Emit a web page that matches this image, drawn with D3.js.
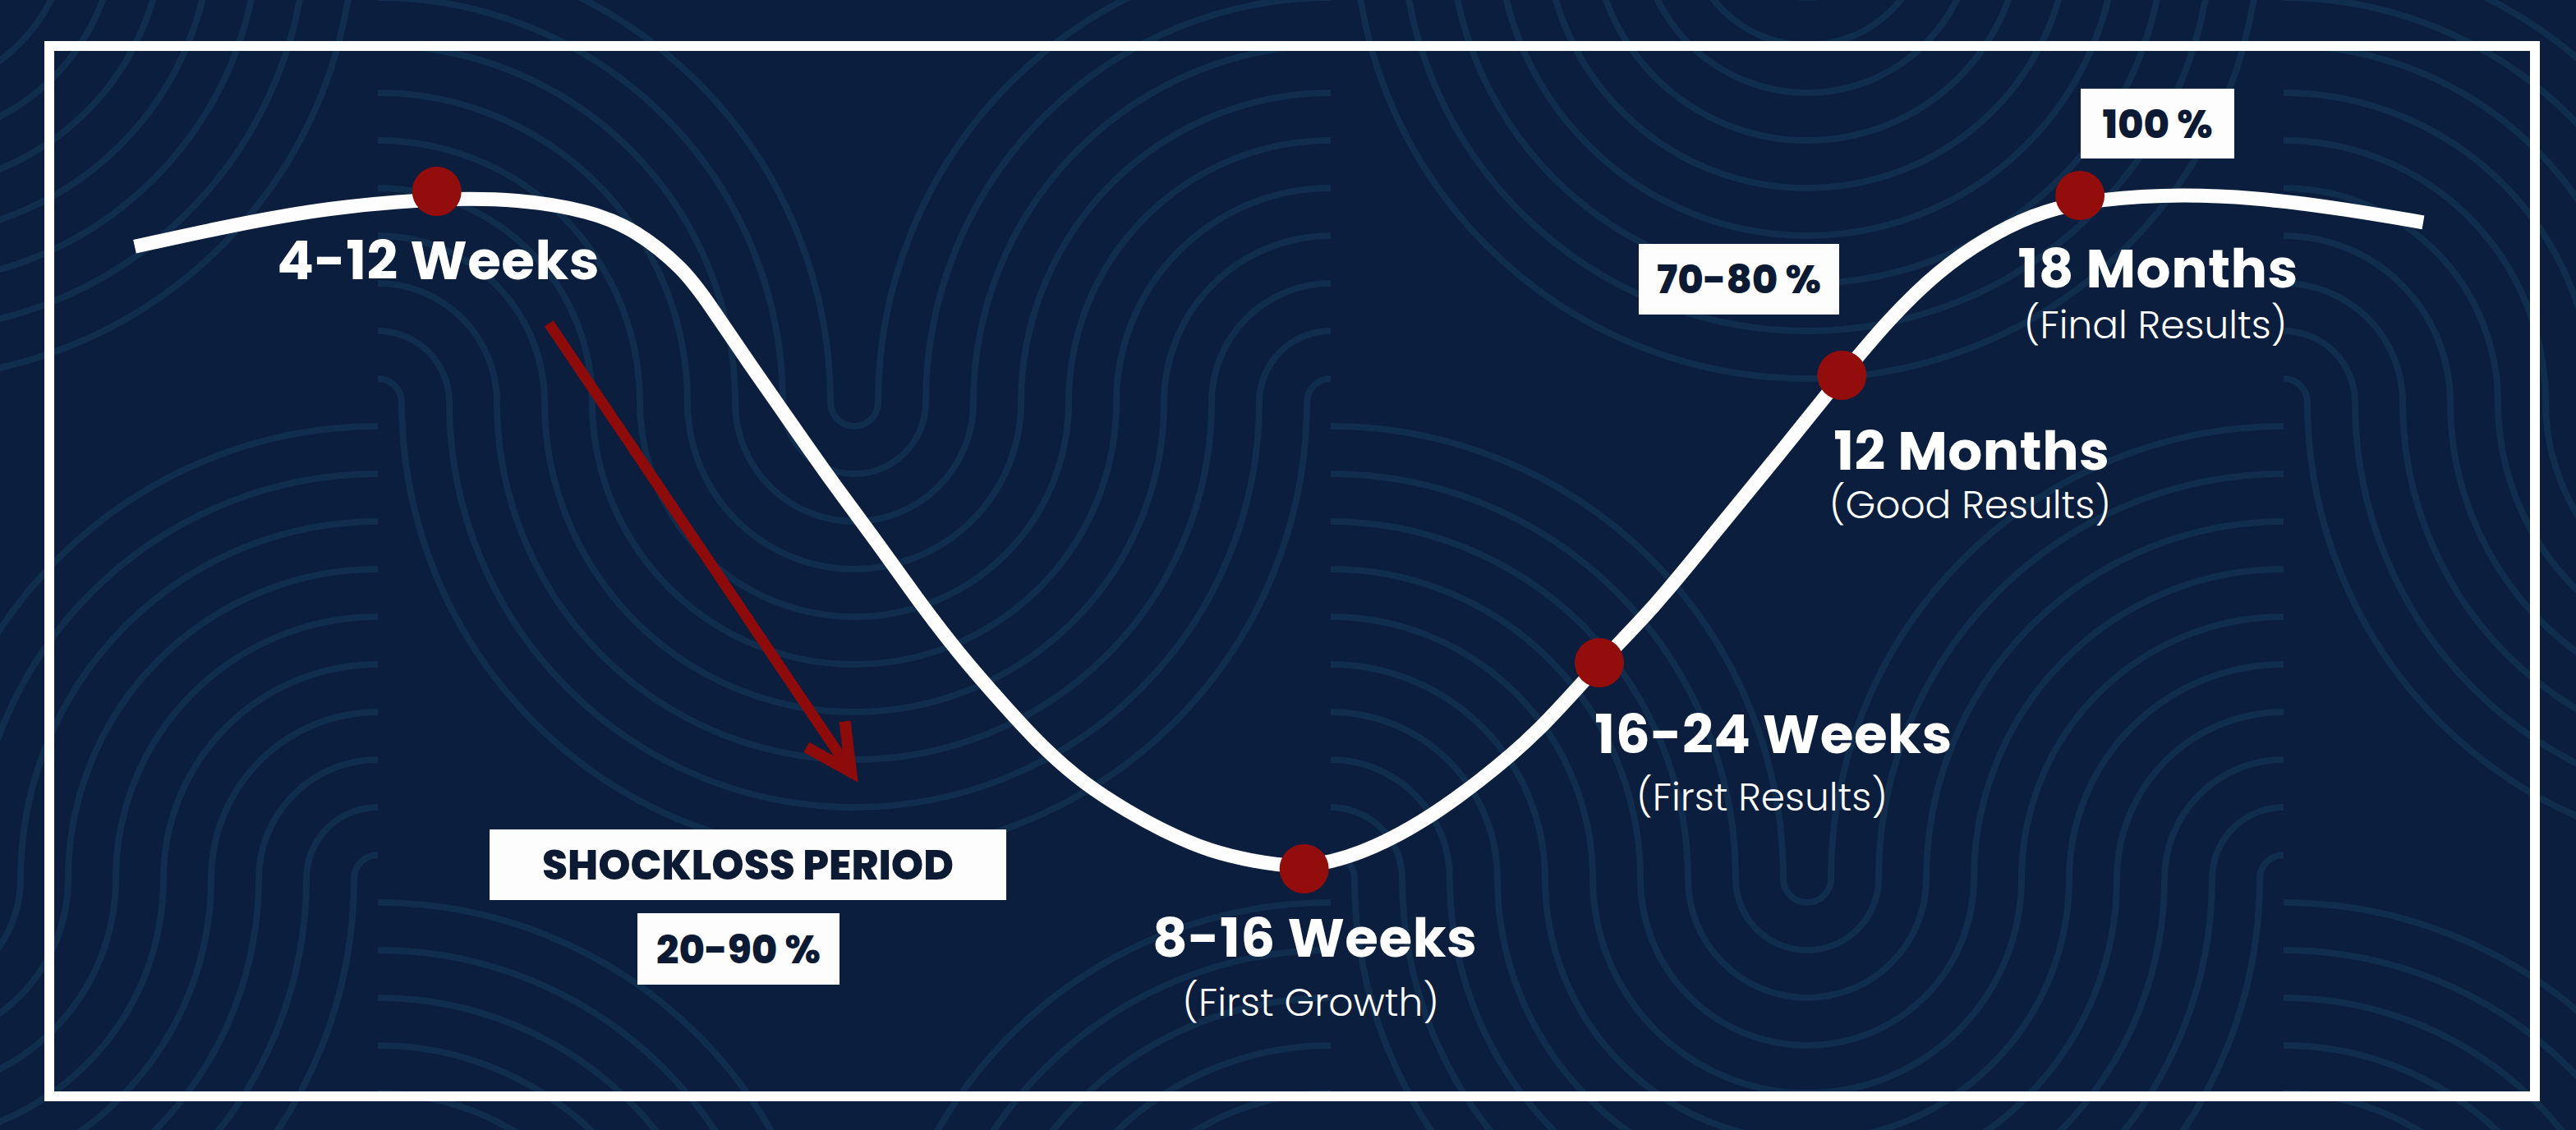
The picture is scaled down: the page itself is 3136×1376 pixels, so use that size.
<!DOCTYPE html>
<html><head><meta charset="utf-8">
<script src="https://cdn.jsdelivr.net/npm/d3@7"></script>
<style>html,body{margin:0;padding:0;background:#0b1e3d;}svg{display:block}</style>
</head><body><svg id="chart" width="3136" height="1376"></svg>
<script>
// ---- data: timeline progress (0-100) vs relative hair level (0-100) ----
const curveX = [0,4.4,8.5,13.2,16.8,19.9,21.9,24.0,25.1,26.9,28.7,30.5,32.4,34.2,36.0,37.9,39.7,41.5,43.4,45.2,47.0,48.9,51.1,53.6,56.2,58.7,61.3,64.0,66.4,69.0,71.8,74.6,76.7,78.8,80.9,82.9,85.0,88.5,92.6,96.7,100];
const curveY = [92.4,95.7,98.2,99.6,99.5,97.7,94.9,89.1,83.9,74.8,66.1,57.3,48.7,40.0,32.0,24.6,17.9,12.6,8.5,5.2,2.6,1.1,0,2.2,6.7,12.8,20.1,30.6,38.8,49.8,61.3,73.3,81.8,88.8,93.7,97.1,99.1,100.2,99.8,97.9,96.0];

const milestoneLabels = ["4-12 Weeks","8-16 Weeks","16-24 Weeks","12 Months","18 Months"];
const milestoneSubs   = ["","(First Growth)","(First Results)","(Good Results)","(Final Results)"];
const milestoneX = [13.2, 51.1, 64.0, 74.6, 85.0];
const milestoneY = [100.6, 0, 30.6, 73.3, 100.0];

const boxLabels = ["SHOCKLOSS PERIOD","20-90 %","70-80 %","100 %"];
const arrowX = [18.1, 31.3];
const arrowY = [81.0, 14.4];

// ---- layout ----
const W = 3136, H = 1376;
const svg = d3.select("#chart");
const x = d3.scaleLinear().domain([0,100]).range([164,2950]);
const y = d3.scaleLinear().domain([0,100]).range([1058,238]);

// background
svg.append("rect").attr("width",W).attr("height",H).attr("fill","#0b1e3d");

// decorative concentric-arc texture (Truchet-like tiles)
const tile = 580, step = 58;
const pat = svg.append("g").attr("fill","none").attr("stroke","#102d4d").attr("stroke-width",8);
for (let i = 0; i < Math.ceil(W/tile)+1; i++) {
  for (let j = 0; j < Math.ceil(H/tile)+1; j++) {
    const k = (i*3 + j*2) % 4;
    const cx = i*tile + ((k===1||k===2)?tile:0) - 120;
    const cy = j*tile + ((k>=2)?tile:0) - 90;
    const clipId = `c${i}_${j}`;
    svg.append("clipPath").attr("id",clipId).append("rect")
      .attr("x",i*tile-120).attr("y",j*tile-90).attr("width",tile).attr("height",tile);
    const g = pat.append("g").attr("clip-path",`url(#${clipId})`);
    d3.range(step/2, tile, step).forEach(r => {
      g.append("circle").attr("cx",cx).attr("cy",cy).attr("r",r);
    });
  }
}

// frame
svg.append("rect").attr("x",60).attr("y",56).attr("width",3026).attr("height",1279)
  .attr("fill","none").attr("stroke","#ffffff").attr("stroke-width",12);

// main curve
const pts = curveX.map((v,i)=>[v,curveY[i]]);
svg.append("path").datum(pts)
  .attr("d", d3.line().x(d=>x(d[0])).y(d=>y(d[1])).curve(d3.curveBasis))
  .attr("fill","none").attr("stroke","#fdfdfd").attr("stroke-width",17).attr("stroke-linecap","butt");

// shockloss arrow
const ax0 = x(arrowX[0]), ay0 = y(arrowY[0]), ax1 = x(arrowX[1]), ay1 = y(arrowY[1]);
const ang = Math.atan2(ay1-ay0, ax1-ax0);
const red = "#8e0b0b";
svg.append("line").attr("x1",ax0).attr("y1",ay0).attr("x2",ax1 - 6*Math.cos(ang)).attr("y2",ay1 - 6*Math.sin(ang))
  .attr("stroke",red).attr("stroke-width",13);
const wl = 62, wa = 27*Math.PI/180;
const wing = a => [ax1 - wl*Math.cos(ang + a), ay1 - wl*Math.sin(ang + a)];
svg.append("path").attr("d", d3.line()([wing(wa),[ax1,ay1],wing(-wa)]))
  .attr("fill","none").attr("stroke",red).attr("stroke-width",14).attr("stroke-linejoin","miter").attr("stroke-miterlimit",10);

// milestone dots
svg.selectAll("circle.dot").data(milestoneX.map((v,i)=>({x:v,y:milestoneY[i]})))
  .join("circle").attr("class","dot")
  .attr("cx",d=>x(d.x)).attr("cy",d=>y(d.y)).attr("r",30).attr("fill","#930d0d");

// milestone labels (offsets from the dot)
const labelOff = [
  {dx:2,   dy:107, sdx:0,   sdy:0},
  {dx:13,  dy:107, sdx:8,   sdy:179},
  {dx:212, dy:110, sdx:198, sdy:180},
  {dx:158, dy:115, sdx:156, sdy:174},
  {dx:95,  dy:112, sdx:92,  sdy:174}
];
const font = "Poppins, Inter, 'Open Sans', sans-serif";
milestoneLabels.forEach((t,i)=>{
  const px = x(milestoneX[i]), py = y(milestoneY[i]), o = labelOff[i];
  svg.append("text").attr("x",px+o.dx).attr("y",py+o.dy).attr("text-anchor","middle")
    .attr("font-family",font).attr("font-weight",700).attr("font-size",66)
    .attr("letter-spacing",0.5).attr("fill","#ffffff").text(t);
  if (milestoneSubs[i]) {
    svg.append("text").attr("x",px+o.sdx).attr("y",py+o.sdy).attr("text-anchor","middle")
      .attr("font-family",font).attr("font-weight",300).attr("font-size",47)
      .attr("fill","#ffffff").text(milestoneSubs[i]);
  }
});

// boxed annotations
const boxLayout = [
  {cx:910.5, cy:1053,   w:629, h:86, fs:50},
  {cx:899,   cy:1155.5, w:246, h:87, fs:48},
  {cx:2117,  cy:340,    w:244, h:86, fs:48},
  {cx:2626.5,cy:150.5,  w:187, h:85, fs:48}
];
boxLabels.forEach((t,i)=>{
  const b = boxLayout[i];
  svg.append("rect").attr("x",b.cx-b.w/2).attr("y",b.cy-b.h/2).attr("width",b.w).attr("height",b.h).attr("fill","#fdfdfd");
  svg.append("text").attr("x",b.cx).attr("y",b.cy+0.36*b.fs).attr("text-anchor","middle")
    .attr("font-family",font).attr("font-weight",800).attr("font-size",b.fs)
    .attr("fill","#0d1a33").text(t);
});
</script></body></html>
